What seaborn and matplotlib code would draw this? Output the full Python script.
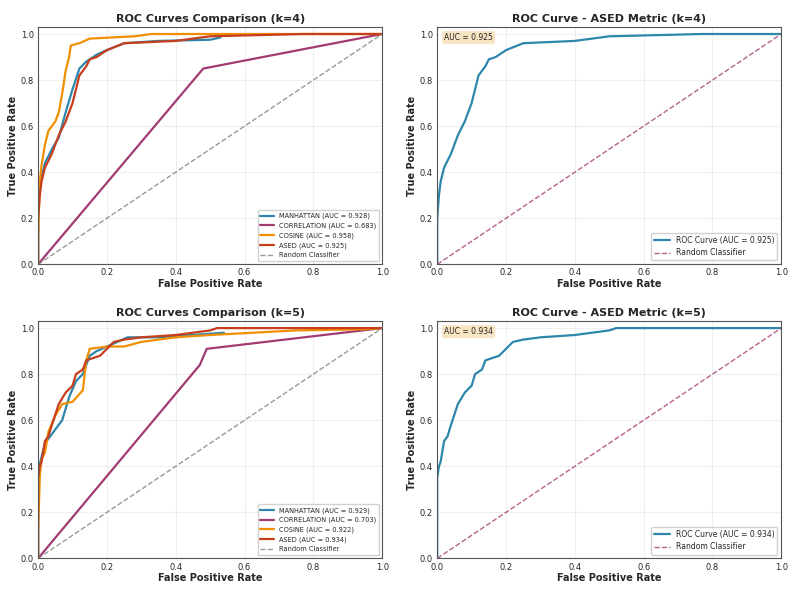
import matplotlib
matplotlib.use("Agg")
import matplotlib.pyplot as plt
import pandas as pd
import seaborn as sns

sns.set_style("whitegrid")

colors = {'MANHATTAN': '#2E86AB', 'CORRELATION': '#A23B72', 'COSINE': '#F18F01', 'ASED': '#C73E1D'}

# k=4 curves
manhattan_k4_fpr = [0, 0, 0.01, 0.02, 0.04, 0.06, 0.08, 0.10, 0.12, 0.14, 0.17, 0.20, 0.25, 0.35, 0.50, 0.53]
manhattan_k4_tpr = [0, 0.30, 0.38, 0.44, 0.50, 0.55, 0.66, 0.76, 0.85, 0.88, 0.91, 0.93, 0.96, 0.97, 0.975, 0.985]
correlation_k4_fpr = [0, 0.48, 1.0]
correlation_k4_tpr = [0, 0.85, 1.0]
cosine_k4_fpr = [0, 0, 0.005, 0.01, 0.02, 0.03, 0.05, 0.06, 0.07, 0.08, 0.09, 0.095, 0.12, 0.15, 0.28, 0.33, 1.0]
cosine_k4_tpr = [0, 0.12, 0.36, 0.43, 0.52, 0.58, 0.62, 0.66, 0.74, 0.84, 0.90, 0.95, 0.96, 0.98, 0.99, 1.0, 1.0]
ased_k4_fpr = [0, 0, 0.005, 0.01, 0.02, 0.04, 0.06, 0.08, 0.10, 0.11, 0.12, 0.14, 0.15, 0.17, 0.20, 0.25, 0.40, 0.50, 0.77, 1.0]
ased_k4_tpr = [0, 0.20, 0.30, 0.36, 0.42, 0.48, 0.56, 0.62, 0.70, 0.76, 0.82, 0.86, 0.89, 0.90, 0.93, 0.96, 0.97, 0.99, 1.0, 1.0]

# k=5 curves
manhattan_k5_fpr = [0, 0, 0.01, 0.02, 0.03, 0.05, 0.07, 0.09, 0.11, 0.13, 0.15, 0.17, 0.20, 0.26, 0.35, 0.45, 0.54]
manhattan_k5_tpr = [0, 0.38, 0.44, 0.50, 0.52, 0.56, 0.60, 0.70, 0.77, 0.80, 0.88, 0.90, 0.92, 0.96, 0.96, 0.97, 0.98]
correlation_k5_fpr = [0, 0.47, 0.49, 1.0]
correlation_k5_tpr = [0, 0.84, 0.91, 1.0]
cosine_k5_fpr = [0, 0, 0.005, 0.01, 0.02, 0.03, 0.05, 0.07, 0.10, 0.13, 0.14, 0.15, 0.20, 0.25, 0.30, 0.40, 0.50, 0.75, 0.95, 1.0]
cosine_k5_tpr = [0, 0.12, 0.36, 0.43, 0.46, 0.55, 0.62, 0.67, 0.68, 0.73, 0.86, 0.91, 0.92, 0.92, 0.94, 0.96, 0.97, 0.99, 0.995, 1.0]
ased_k5_fpr = [0, 0, 0.005, 0.01, 0.02, 0.03, 0.04, 0.06, 0.08, 0.10, 0.11, 0.13, 0.14, 0.16, 0.18, 0.20, 0.22, 0.25, 0.30, 0.40, 0.50, 0.52, 1.0]
ased_k5_tpr = [0, 0.35, 0.40, 0.42, 0.51, 0.53, 0.58, 0.67, 0.72, 0.75, 0.80, 0.82, 0.86, 0.87, 0.88, 0.91, 0.94, 0.95, 0.96, 0.97, 0.99, 1.0, 1.0]

auc_k4 = {'MANHATTAN': 0.928, 'CORRELATION': 0.683, 'COSINE': 0.958, 'ASED': 0.925}
auc_k5 = {'MANHATTAN': 0.929, 'CORRELATION': 0.703, 'COSINE': 0.922, 'ASED': 0.934}

curves = {
    4: {'MANHATTAN': (manhattan_k4_fpr, manhattan_k4_tpr), 'CORRELATION': (correlation_k4_fpr, correlation_k4_tpr),
        'COSINE': (cosine_k4_fpr, cosine_k4_tpr), 'ASED': (ased_k4_fpr, ased_k4_tpr)},
    5: {'MANHATTAN': (manhattan_k5_fpr, manhattan_k5_tpr), 'CORRELATION': (correlation_k5_fpr, correlation_k5_tpr),
        'COSINE': (cosine_k5_fpr, cosine_k5_tpr), 'ASED': (ased_k5_fpr, ased_k5_tpr)},
}
aucs = {4: auc_k4, 5: auc_k5}

fig, axes = plt.subplots(2, 2, figsize=(7.94, 5.89), dpi=100)
plt.subplots_adjust(left=0.048, right=0.984, top=0.954, bottom=0.052, wspace=0.16, hspace=0.24)


def style_ax(ax, title):
    ax.set_xlim(0, 1)
    ax.set_ylim(0, 1.03)
    ax.set_title(title, fontsize=8, fontweight='bold', pad=4)
    ax.set_xlabel('False Positive Rate', fontsize=7, fontweight='bold', labelpad=1)
    ax.set_ylabel('True Positive Rate', fontsize=7, fontweight='bold', labelpad=2)
    ax.tick_params(labelsize=6, pad=1, length=2)
    ax.grid(True, alpha=0.3)
    for s in ax.spines.values():
        s.set_edgecolor('#555555')
        s.set_linewidth(0.8)


for row, k in enumerate([4, 5]):
    ax = axes[row, 0]
    for name, (fpr, tpr) in curves[k].items():
        df = pd.DataFrame({'fpr': fpr, 'tpr': tpr})
        sns.lineplot(data=df, x='fpr', y='tpr', ax=ax, sort=False, estimator=None, color=colors[name],
                     linewidth=1.6, label=f'{name} (AUC = {aucs[k][name]:.3f})')
    ax.plot([0, 1], [0, 1], '--', color='gray', alpha=0.8, linewidth=1.0, label='Random Classifier')
    style_ax(ax, f'ROC Curves Comparison (k={k})')
    ax.legend(loc='lower right', fontsize=4.8, framealpha=0.9)

    ax = axes[row, 1]
    fpr, tpr = curves[k]['ASED']
    df = pd.DataFrame({'fpr': fpr, 'tpr': tpr})
    sns.lineplot(data=df, x='fpr', y='tpr', ax=ax, sort=False, estimator=None, color='#2E86AB',
                 linewidth=1.6, label=f'ROC Curve (AUC = {aucs[k]["ASED"]:.3f})')
    ax.plot([0, 1], [0, 1], '--', color='#A23B72', alpha=0.8, linewidth=1.0, label='Random Classifier')
    style_ax(ax, f'ROC Curve - ASED Metric (k={k})')
    ax.legend(loc='lower right', fontsize=5.5, framealpha=0.9)
    ax.text(0.02, 0.975, f'AUC = {aucs[k]["ASED"]:.3f}', transform=ax.transAxes, fontsize=5.5, va='top',
            bbox=dict(boxstyle='round,pad=0.3', facecolor='wheat', alpha=0.8, linewidth=0.6))

fig.savefig('out.png', dpi=100)
